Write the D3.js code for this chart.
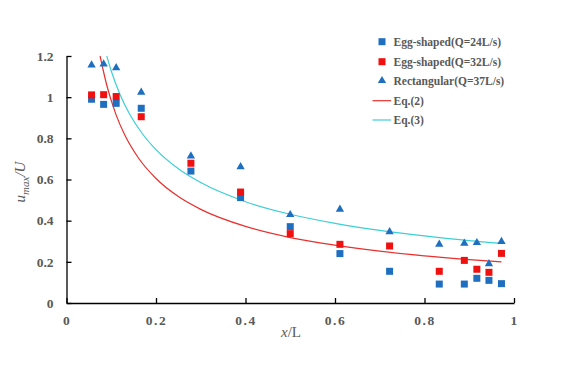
<!DOCTYPE html>
<html><head><meta charset="utf-8">
<script src="https://cdn.jsdelivr.net/npm/d3@7"></script>
<style>body{margin:0;background:#fff;} svg{display:block;}</style>
</head><body>
<script>
const xPos = [0.056,0.083,0.111,0.167,0.278,0.389,0.5,0.611,0.722,0.833,0.889,0.917,0.944,0.972];
const egg24 = [0.99,0.965,0.97,0.946,0.641,0.512,0.371,0.24,0.154,0.092,0.092,0.12,0.11,0.094];
const egg32 = [1.011,1.012,1.003,0.905,0.679,0.539,0.337,0.285,0.277,0.154,0.207,0.164,0.149,0.241];
const rect37 = [1.156,1.161,1.143,1.024,0.714,0.662,0.429,0.455,0.346,0.285,0.29,0.293,0.19,0.298];
const eq2X = [0.075,0.09,0.11,0.13,0.16,0.2,0.25,0.3,0.4,0.5,0.6,0.7,0.8,0.9,0.972];
const eq2Y = [1.2,1.058,0.919,0.817,0.707,0.605,0.517,0.455,0.372,0.318,0.281,0.252,0.229,0.211,0.2];
const eq3X = [0.09,0.1,0.12,0.14,0.17,0.2,0.25,0.3,0.4,0.5,0.6,0.7,0.8,0.9,0.972];
const eq3Y = [1.2,1.127,1.011,0.922,0.821,0.745,0.652,0.585,0.492,0.431,0.387,0.353,0.326,0.303,0.29];
const xTicks = [0,0.2,0.4,0.6,0.8,1];
const yTicks = [0,0.2,0.4,0.6,0.8,1,1.2];
const legendLabels = ["Egg-shaped(Q=24L/s)","Egg-shaped(Q=32L/s)","Rectangular(Q=37L/s)","Eq.(2)","Eq.(3)"];

const W=561,H=365;
const blue="#1F6FC1", red="#F01010", cyan="#3CCFD6", redLine="#E8302E", gray="#595959";
const font="'Liberation Serif','Times New Roman',serif";
const svg=d3.select("body").append("svg").attr("width",W).attr("height",H);
const x=d3.scaleLinear().domain([0,1]).range([66.5,514]);
const y=d3.scaleLinear().domain([0,1.2]).range([303,56]);

// axes
const xa=svg.append("g").attr("transform","translate(0,303)")
  .call(d3.axisBottom(x).tickValues(xTicks).tickSizeInner(-5).tickSizeOuter(0).tickPadding(12).tickFormat(d=>d===0||d===1?d3.format("d")(d):d3.format(".1f")(d)));
const ya=svg.append("g").attr("transform","translate(66.5,0)")
  .call(d3.axisLeft(y).tickValues(yTicks).tickSizeInner(-5).tickSizeOuter(0).tickPadding(13).tickFormat(d=>d===0||d===1?d3.format("d")(d):d3.format(".1f")(d)));
[xa,ya].forEach(g=>{
  g.select(".domain").attr("stroke","#000").attr("stroke-width",1.3);
  g.selectAll(".tick line").attr("stroke","#000").attr("stroke-width",1.3);
  g.selectAll(".tick text").attr("fill",gray).attr("font-family",font).attr("font-weight","bold").attr("font-size","13.5px");
});
xa.selectAll(".tick text").attr("letter-spacing","1.5px");

// curves
const line=d3.line().x(d=>x(d[0])).y(d=>y(d[1])).curve(d3.curveMonotoneX);
svg.append("path").datum(eq2X.map((v,i)=>[v,eq2Y[i]])).attr("d",line).attr("fill","none").attr("stroke",redLine).attr("stroke-width",1.2);
svg.append("path").datum(eq3X.map((v,i)=>[v,eq3Y[i]])).attr("d",line).attr("fill","none").attr("stroke",cyan).attr("stroke-width",1.2);

// markers
const sq=7;
function squares(vals,color){
  svg.append("g").selectAll("rect").data(vals).join("rect")
    .attr("x",(d,i)=>x(xPos[i])-sq/2).attr("y",d=>y(d)-sq/2).attr("width",sq).attr("height",sq).attr("fill",color);
}
squares(egg24,blue);
squares(egg32,red);
const tri=d3.symbol().type(d3.symbolTriangle).size(30);
svg.append("g").selectAll("path").data(rect37).join("path")
  .attr("transform",(d,i)=>`translate(${x(xPos[i])},${y(d)})`).attr("d",tri).attr("fill",blue);

// legend
const ly=[41.7,61.7,80.7,100.7,120];
const lg=svg.append("g");
lg.append("rect").attr("x",378.5).attr("y",ly[0]-3.5).attr("width",7).attr("height",7).attr("fill",blue);
lg.append("rect").attr("x",378.5).attr("y",ly[1]-3.5).attr("width",7).attr("height",7).attr("fill",red);
lg.append("path").attr("transform",`translate(382,${ly[2]})`).attr("d",tri).attr("fill",blue);
lg.append("line").attr("x1",372.5).attr("x2",391).attr("y1",ly[3]).attr("y2",ly[3]).attr("stroke",redLine).attr("stroke-width",1.2);
lg.append("line").attr("x1",372.5).attr("x2",391).attr("y1",ly[4]).attr("y2",ly[4]).attr("stroke",cyan).attr("stroke-width",1.2);
lg.selectAll("text").data(legendLabels).join("text")
  .attr("x",393.5).attr("y",(d,i)=>ly[i]).attr("dy","0.35em")
  .attr("fill",gray).attr("font-family",font).attr("font-weight","bold").attr("font-size","11.5px").text(d=>d);

// axis titles
const xt=svg.append("text").attr("x",291).attr("y",337).attr("text-anchor","middle")
  .attr("fill",gray).attr("font-family",font).attr("font-size","15px");
xt.append("tspan").attr("font-style","italic").text("x");
xt.append("tspan").text("/L");
const yt=svg.append("text").attr("transform","translate(25,182) rotate(-90)").attr("text-anchor","middle")
  .attr("fill",gray).attr("font-family",font).attr("font-size","15px").attr("font-style","italic");
yt.append("tspan").text("u");
yt.append("tspan").attr("font-size","11px").attr("dy","4").text("max");
yt.append("tspan").attr("dy","-4").text("/U");
</script>
</body></html>
